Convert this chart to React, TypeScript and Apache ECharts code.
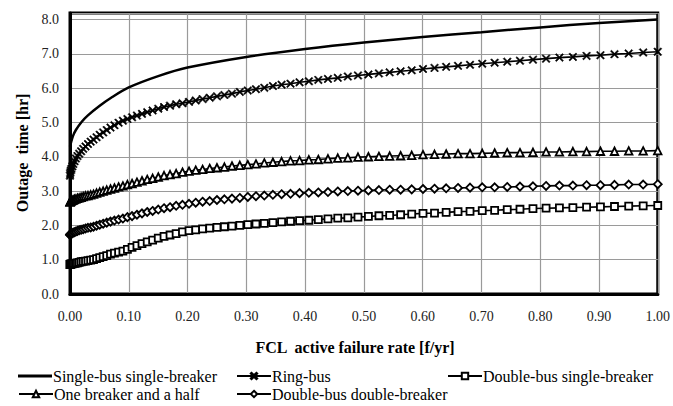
import React, { useEffect, useRef } from "react";
import * as echarts from "echarts";

const FONT = "Liberation Serif, Times New Roman, DejaVu Serif, serif";

const seriesNames = [
  "Single-bus single-breaker",
  "Ring-bus",
  "Double-bus single-breaker",
  "One breaker and a half",
  "Double-bus double-breaker",
];

const xTicks = [0, 0.1, 0.2, 0.3, 0.4, 0.5, 0.6, 0.7, 0.8, 0.9, 1.0];

const xSingle = [0, 0.005, 0.01, 0.02, 0.03, 0.05, 0.07, 0.1, 0.15, 0.2, 0.3, 0.4, 0.5, 0.6, 0.7, 0.8, 0.9, 1.0];
const ySingle = [4.3, 4.6, 4.78, 5.02, 5.2, 5.48, 5.72, 6.02, 6.35, 6.6, 6.91, 7.14, 7.33, 7.49, 7.63, 7.77, 7.9, 8.0];

const xMarker = [
  0, 0.0002, 0.0006, 0.0014, 0.0025, 0.0039, 0.0056, 0.0077, 0.01,
  0.0127, 0.0156, 0.0189, 0.0225, 0.0264, 0.0306, 0.0352, 0.04,
  0.0452, 0.0506, 0.0564, 0.0625, 0.0689, 0.0756, 0.0827, 0.09,
  0.0977, 0.1056, 0.1139, 0.1225, 0.1314, 0.1406, 0.1502, 0.16,
  0.1702, 0.1806, 0.1914, 0.2025, 0.2139, 0.2256, 0.2377, 0.25,
  0.2627, 0.2756, 0.2889, 0.3025, 0.3164, 0.3306, 0.3452, 0.36,
  0.3752, 0.3906, 0.4064, 0.4225, 0.4389, 0.4556, 0.4727, 0.49,
  0.5077, 0.5256, 0.5439, 0.5625, 0.5814, 0.6006, 0.6202, 0.64,
  0.6602, 0.6806, 0.7014, 0.7225, 0.7439, 0.7656, 0.7877, 0.81,
  0.8327, 0.8556, 0.8789, 0.9025, 0.9264, 0.9506, 0.9752, 1,
];

const yRing = [
  3.45, 3.5, 3.55, 3.6, 3.65, 3.72, 3.79, 3.87, 3.95,
  4.02, 4.09, 4.16, 4.23, 4.3, 4.37, 4.44, 4.5,
  4.57, 4.64, 4.71, 4.78, 4.85, 4.92, 4.99, 5.05,
  5.1, 5.15, 5.2, 5.25, 5.3, 5.35, 5.4, 5.45,
  5.49, 5.53, 5.56, 5.6, 5.64, 5.68, 5.72, 5.76,
  5.8, 5.84, 5.89, 5.93, 5.97, 6.01, 6.06, 6.1,
  6.13, 6.17, 6.2, 6.24, 6.27, 6.3, 6.34, 6.37,
  6.4, 6.43, 6.46, 6.49, 6.52, 6.56, 6.59, 6.62,
  6.65, 6.68, 6.71, 6.74, 6.77, 6.8, 6.83, 6.86,
  6.89, 6.91, 6.94, 6.96, 6.99, 7.01, 7.04, 7.06,
];

const yOneHalf = [
  2.68, 2.69, 2.7, 2.71, 2.72, 2.73, 2.74, 2.76, 2.77,
  2.79, 2.8, 2.82, 2.84, 2.86, 2.87, 2.89, 2.91,
  2.94, 2.97, 3.0, 3.03, 3.06, 3.09, 3.12, 3.15,
  3.19, 3.22, 3.26, 3.3, 3.34, 3.37, 3.41, 3.45,
  3.48, 3.51, 3.55, 3.58, 3.61, 3.63, 3.66, 3.68,
  3.7, 3.73, 3.75, 3.77, 3.79, 3.82, 3.84, 3.86,
  3.88, 3.89, 3.91, 3.92, 3.94, 3.96, 3.97, 3.99,
  4.0, 4.01, 4.02, 4.03, 4.04, 4.06, 4.07, 4.08,
  4.09, 4.09, 4.1, 4.11, 4.12, 4.12, 4.13, 4.14,
  4.14, 4.15, 4.15, 4.16, 4.16, 4.17, 4.17, 4.18,
];

const yDoubleDouble = [
  1.72, 1.73, 1.74, 1.75, 1.76, 1.77, 1.79, 1.8, 1.82,
  1.84, 1.86, 1.87, 1.89, 1.91, 1.93, 1.94, 1.96,
  1.99, 2.02, 2.05, 2.08, 2.11, 2.14, 2.17, 2.2,
  2.24, 2.27, 2.31, 2.35, 2.39, 2.42, 2.46, 2.5,
  2.53, 2.57, 2.6, 2.63, 2.66, 2.69, 2.71, 2.74,
  2.76, 2.78, 2.8, 2.83, 2.85, 2.87, 2.89, 2.91,
  2.92, 2.94, 2.95, 2.96, 2.97, 2.99, 3.0, 3.01,
  3.02, 3.03, 3.04, 3.04, 3.05, 3.06, 3.07, 3.08,
  3.09, 3.1, 3.11, 3.11, 3.12, 3.13, 3.14, 3.15,
  3.16, 3.16, 3.17, 3.17, 3.18, 3.19, 3.19, 3.2,
];

const yDoubleSingle = [
  0.86, 0.86, 0.87, 0.87, 0.88, 0.88, 0.89, 0.89, 0.9,
  0.91, 0.92, 0.94, 0.95, 0.96, 0.97, 0.99, 1.0,
  1.03, 1.06, 1.09, 1.12, 1.16, 1.19, 1.22, 1.25,
  1.3, 1.36, 1.41, 1.47, 1.52, 1.57, 1.63, 1.68,
  1.72, 1.76, 1.81, 1.85, 1.87, 1.9, 1.92, 1.94,
  1.96, 1.98, 2.0, 2.02, 2.04, 2.06, 2.08, 2.1,
  2.12, 2.14, 2.15, 2.17, 2.19, 2.21, 2.22, 2.24,
  2.26, 2.28, 2.29, 2.31, 2.33, 2.35, 2.36, 2.38,
  2.4, 2.41, 2.43, 2.44, 2.46, 2.47, 2.49, 2.5,
  2.51, 2.52, 2.53, 2.54, 2.55, 2.56, 2.57, 2.58,
];

const X_SYMBOL = "path://M0 1.2L1.2 0L5 3.8L8.8 0L10 1.2L6.2 5L10 8.8L8.8 10L5 6.2L1.2 10L0 8.8L3.8 5Z";

function pairs(xs: number[], ys: number[]) {
  return ys.map((y, i) => [xs[i], y]);
}

export default function App() {
  const ref = useRef<HTMLDivElement>(null);
  useEffect(() => {
    if (!ref.current) return;
    const chart = echarts.init(ref.current, undefined, { renderer: "svg" });
    const markerSeries = (name: string, ys: number[], symbol: string, size: number, filled: boolean) => ({
      name,
      type: "line",
      data: pairs(xMarker, ys),
      symbol,
      symbolSize: size,
      showAllSymbol: true,
      lineStyle: { color: "#000", width: 1.6 },
      itemStyle: filled
        ? { color: "#000", borderColor: "#000", borderWidth: 0.6 }
        : { color: "#fff", borderColor: "#000", borderWidth: 1.8 },
      emphasis: { disabled: true },
      z: 3,
    });
    const legendBase = {
      itemWidth: 34,
      itemHeight: 8,
      padding: 0,
      itemGap: 0,
      textStyle: { fontFamily: FONT, fontSize: 16, color: "#000", padding: [0, 0, 0, -4] },
      selectedMode: false,
    };
    chart.setOption({
      animation: false,
      backgroundColor: "#fff",
      textStyle: { fontFamily: FONT },
      grid: {
        left: 70,
        right: 13,
        top: 13,
        bottom: 112,
        show: true,
        borderColor: "#000",
        borderWidth: 3,
      },
      xAxis: {
        type: "value",
        min: 0,
        max: 1,
        interval: 0.1,
        axisLine: { show: true, lineStyle: { color: "#000", width: 3 } },
        axisTick: { show: false },
        splitLine: { show: true, lineStyle: { color: "#9a9a9a", width: 1.2 } },
        axisLabel: {
          fontFamily: FONT,
          fontSize: 14,
          color: "#222",
          margin: 15,
          formatter: (v: number) => {
            const t = xTicks.find((k) => Math.abs(k - v) < 1e-6);
            return t === undefined ? "" : t.toFixed(2);
          },
        },
      },
      yAxis: {
        type: "value",
        min: 0,
        max: 8.19,
        interval: 1,
        axisLine: { show: true, lineStyle: { color: "#000", width: 3 } },
        axisTick: { show: false },
        splitLine: { show: true, lineStyle: { color: "#9a9a9a", width: 1.2 } },
        axisLabel: {
          fontFamily: FONT,
          fontSize: 14,
          color: "#222",
          margin: 11,
          formatter: (v: number) => (Math.abs(v - Math.round(v)) < 1e-6 ? v.toFixed(1) : ""),
        },
      },
      legend: [
        {
          ...legendBase,
          itemHeight: 3,
          data: [{ name: seriesNames[0], icon: "rect" }],
          left: 18,
          top: 368,
        },
        { ...legendBase, data: [seriesNames[1]], left: 236, top: 368 },
        { ...legendBase, data: [seriesNames[2]], left: 447, top: 368 },
        { ...legendBase, data: [seriesNames[3]], left: 18, top: 386 },
        { ...legendBase, data: [seriesNames[4]], left: 236, top: 386 },
      ],
      graphic: [
        {
          type: "text",
          x: 22,
          y: 153,
          rotation: Math.PI / 2,
          style: {
            text: "Outage  time [hr]",
            fontFamily: FONT,
            fontWeight: "bold",
            fontSize: 16,
            fill: "#000",
            textAlign: "center",
            textVerticalAlign: "middle",
          },
        },
        {
          type: "text",
          x: 355,
          y: 347,
          style: {
            text: "FCL  active failure rate [f/yr]",
            fontFamily: FONT,
            fontWeight: "bold",
            fontSize: 16,
            fill: "#000",
            textAlign: "center",
            textVerticalAlign: "middle",
          },
        },
      ],
      series: [
        {
          name: seriesNames[0],
          type: "line",
          data: pairs(xSingle, ySingle),
          smooth: 0.3,
          symbol: "none",
          lineStyle: { color: "#000", width: 2.5 },
          itemStyle: { color: "#000" },
          emphasis: { disabled: true },
          z: 3,
        },
        markerSeries(seriesNames[1], yRing, X_SYMBOL, 8, true),
        markerSeries(seriesNames[2], yDoubleSingle, "rect", 7, false),
        markerSeries(seriesNames[3], yOneHalf, "triangle", 7.5, false),
        markerSeries(seriesNames[4], yDoubleDouble, "diamond", 8, false),
      ],
    });
    return () => chart.dispose();
  }, []);
  return (
    <div
      ref={ref}
      style={{ position: "fixed", left: 0, top: 0, width: 673, height: 406, background: "#fff" }}
    />
  );
}
